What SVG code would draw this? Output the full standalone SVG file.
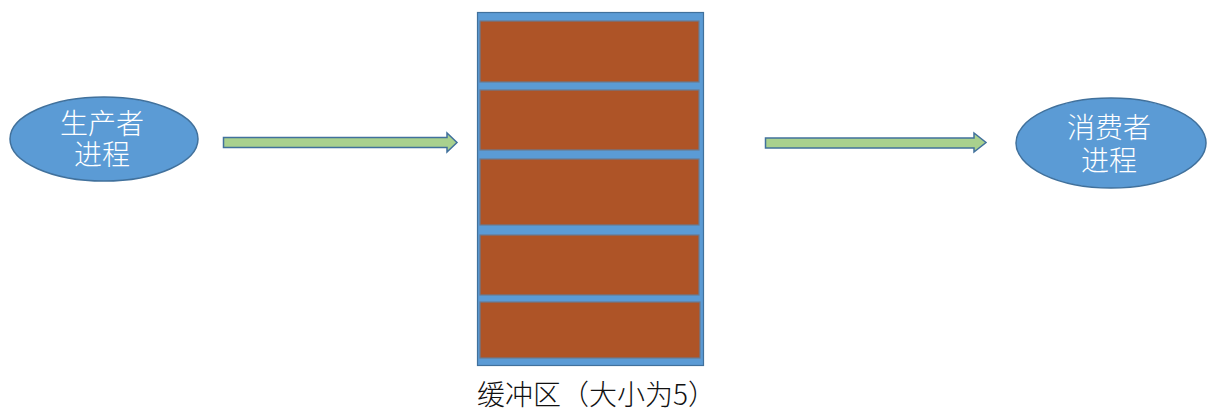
<svg xmlns="http://www.w3.org/2000/svg" width="1224" height="419" viewBox="0 0 1224 419">
<style>
.proc{fill:#5B9BD5;stroke:#41719C;stroke-width:1.5}
.ptxt{fill:#ffffff;font-family:"Noto Sans CJK SC","Liberation Sans",sans-serif;font-size:28px;text-anchor:middle;font-weight:300}
.arr{fill:#A9D18E;stroke:#41719C;stroke-width:1.5;stroke-linejoin:miter}
.slot{fill:#AE5427;stroke:#6A7A90;stroke-width:1.2}
.lbl{fill:#111111;font-family:"Noto Sans CJK SC","Liberation Sans",sans-serif;font-size:28px;font-weight:300}
</style>
<rect width="1224" height="419" fill="#ffffff"/>
<g id="producer">
<ellipse class="proc" cx="104" cy="139" rx="94" ry="42"/>
<text class="ptxt" x="102" y="134">生产者</text>
<text class="ptxt" x="102" y="165">进程</text>
</g>
<g id="buffer">
<rect x="477.5" y="12.5" width="226" height="353" fill="#5B9BD5" stroke="#41719C" stroke-width="1.2"/>
<rect class="slot" x="480" y="21" width="219" height="61"/>
<rect class="slot" x="480" y="90" width="219" height="60"/>
<rect class="slot" x="480" y="159" width="219" height="66"/>
<rect class="slot" x="480" y="235" width="219" height="60"/>
<rect class="slot" x="480" y="302" width="220" height="56"/>
<text class="lbl" x="477" y="405">缓冲区（大小为5）</text>
</g>
<g id="consumer">
<ellipse class="proc" cx="1111" cy="143" rx="95" ry="45"/>
<text class="ptxt" x="1109" y="138">消费者</text>
<text class="ptxt" x="1109" y="171">进程</text>
</g>
<g id="connectors">
<path class="arr" d="M223.5,137.5 H447 V133 L457,142.5 L447,152 V147.5 H223.5 Z"/>
<path class="arr" d="M765.5,138 H974 V133 L986,142.5 L974,152 V148 H765.5 Z"/>
</g>
</svg>
